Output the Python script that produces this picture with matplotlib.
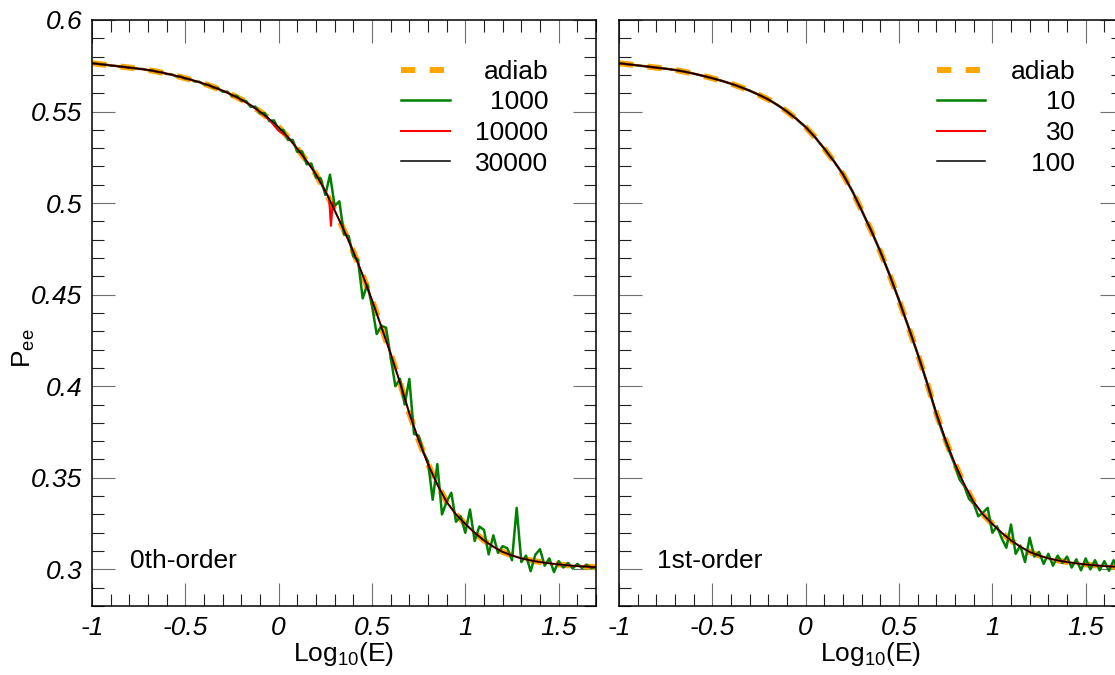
import numpy as np
import matplotlib.pyplot as plt
from matplotlib.ticker import MultipleLocator, FuncFormatter

plt.rcParams['font.family'] = ['Liberation Sans', 'DejaVu Sans']
plt.rcParams['mathtext.default'] = 'regular'

# log10(E) grids
log_e = np.round(np.arange(-1.0, 1.7001, 0.05), 3)
log_e_fine = np.round(np.arange(-1.0, 1.7001, 0.025), 3)

# adiabatic survival probability (step 0.05)
p_adiab = [
    0.5764, 0.5758, 0.5752, 0.5746, 0.5740, 0.5734, 0.5727, 0.5718, 0.5707, 0.5695,
    0.5682, 0.5668, 0.5652, 0.5634, 0.5614, 0.5591, 0.5566, 0.5535, 0.5500, 0.5460,
    0.5415, 0.5360, 0.5297, 0.5230, 0.5157, 0.5065, 0.4960, 0.4852, 0.4735, 0.4607,
    0.4470, 0.4325, 0.4177, 0.4020, 0.3852, 0.3705, 0.3575, 0.3463, 0.3368, 0.3300,
    0.3248, 0.3200, 0.3158, 0.3124, 0.3095, 0.3076, 0.3060, 0.3049, 0.3040, 0.3033,
    0.3027, 0.3022, 0.3018, 0.3015, 0.3012,
]

# 0th-order, 1000 steps (step 0.025)
p0_1000 = [
    0.5764, 0.5761, 0.5758, 0.5756, 0.5751, 0.5750, 0.5745, 0.5744,
    0.5739, 0.5738, 0.5733, 0.5732, 0.5726, 0.5725, 0.5716, 0.5715,
    0.5705, 0.5704, 0.5692, 0.5692, 0.5679, 0.5677, 0.5664, 0.5663,
    0.5648, 0.5646, 0.5630, 0.5628, 0.5608, 0.5609, 0.5585, 0.5586,
    0.5560, 0.5558, 0.5526, 0.5527, 0.5490, 0.5492, 0.5448, 0.5452,
    0.5400, 0.5399, 0.5345, 0.5345, 0.5280, 0.5283, 0.5212, 0.5216,
    0.5140, 0.5135, 0.5045, 0.5155, 0.4985, 0.5010, 0.4830, 0.4820,
    0.4710, 0.4690, 0.4480, 0.4555, 0.4440, 0.4285, 0.4330, 0.4320,
    0.4160, 0.4000, 0.4040, 0.3900, 0.4040, 0.3740, 0.3730, 0.3640,
    0.3590, 0.3380, 0.3575, 0.3300, 0.3370, 0.3418, 0.3260, 0.3290,
    0.3200, 0.3327, 0.3155, 0.3234, 0.3215, 0.3082, 0.3186, 0.3090,
    0.3127, 0.3115, 0.3050, 0.3336, 0.3040, 0.3075, 0.2990, 0.3080,
    0.3110, 0.3020, 0.3060, 0.2985, 0.3045, 0.3010, 0.3035, 0.3005,
    0.3030, 0.3008, 0.3025, 0.3006, 0.3014,
]

# 0th-order, 10000 steps
x0_10000 = [
    -1.0, -0.95, -0.9, -0.85, -0.8, -0.75, -0.7, -0.65, -0.6, -0.55,
    -0.5, -0.45, -0.4, -0.35, -0.3, -0.25, -0.2, -0.15, -0.1, -0.05,
    0.0, 0.05, 0.1, 0.15, 0.2, 0.25, 0.27, 0.28, 0.29, 0.3,
    0.35, 0.4, 0.45, 0.5, 0.55, 0.6, 0.65, 0.7, 0.75, 0.8,
    0.85, 0.9, 0.95, 1.0, 1.05, 1.1, 1.15, 1.2, 1.25, 1.3,
    1.35, 1.4, 1.45, 1.5, 1.55, 1.6, 1.65, 1.7,
]
p0_10000 = [
    0.5764, 0.5758, 0.5752, 0.5746, 0.5740, 0.5734, 0.5727, 0.5718, 0.5707, 0.5695,
    0.5682, 0.5668, 0.5652, 0.5634, 0.5614, 0.5591, 0.5564, 0.5535, 0.5498, 0.5455,
    0.5395, 0.5360, 0.5297, 0.5230, 0.5157, 0.5065, 0.5030, 0.4876, 0.5005, 0.4960,
    0.4852, 0.4735, 0.4607, 0.4470, 0.4325, 0.4177, 0.4020, 0.3852, 0.3705, 0.3575,
    0.3463, 0.3368, 0.3300, 0.3248, 0.3200, 0.3158, 0.3124, 0.3095, 0.3076, 0.3060,
    0.3049, 0.3040, 0.3033, 0.3027, 0.3022, 0.3018, 0.3015, 0.3012,
]

# 0th-order, 30000 steps: on top of the adiabatic curve
p0_30000 = list(p_adiab)

# 1st-order, 10 steps (step 0.025)
p1_10 = [
    0.5764, 0.5761, 0.5758, 0.5755, 0.5752, 0.5749, 0.5746, 0.5743,
    0.5740, 0.5737, 0.5734, 0.5731, 0.5727, 0.5723, 0.5718, 0.5713,
    0.5707, 0.5701, 0.5695, 0.5689, 0.5682, 0.5675, 0.5668, 0.5660,
    0.5652, 0.5643, 0.5634, 0.5624, 0.5614, 0.5603, 0.5591, 0.5579,
    0.5566, 0.5551, 0.5535, 0.5518, 0.5500, 0.5480, 0.5461, 0.5437,
    0.5416, 0.5387, 0.5361, 0.5328, 0.5298, 0.5263, 0.5231, 0.5194,
    0.5158, 0.5111, 0.5066, 0.5012, 0.4961, 0.4905, 0.4853, 0.4794,
    0.4736, 0.4671, 0.4608, 0.4538, 0.4471, 0.4396, 0.4326, 0.4250,
    0.4176, 0.4098, 0.4019, 0.3932, 0.3848, 0.3770, 0.3698, 0.3630,
    0.3568, 0.3490, 0.3455, 0.3385, 0.3360, 0.3290, 0.3310, 0.3336,
    0.3200, 0.3235, 0.3170, 0.3118, 0.3245, 0.3085, 0.3130, 0.3040,
    0.3173, 0.3070, 0.3095, 0.3030, 0.3085, 0.3020, 0.3075, 0.3035,
    0.3070, 0.3010, 0.3055, 0.2995, 0.3060, 0.3000, 0.3050, 0.2995,
    0.3045, 0.2992, 0.3050, 0.2995, 0.3040,
]

# 1st-order, 30 and 100 steps: on top of the adiabatic curve
p1_30 = list(p_adiab)
p1_100 = list(p_adiab)

orange = '#FFA500'
green = '#008000'
red = '#FF0000'
fs = 19

fig = plt.figure(figsize=(11.15, 6.75), dpi=100)
ax1 = fig.add_axes([92 / 1115, 1 - 606 / 675, 504 / 1115, 586 / 675])
ax2 = fig.add_axes([619 / 1115, 1 - 606 / 675, 504 / 1115, 586 / 675])

# left panel
ax1.plot(log_e, p_adiab, color=orange, lw=4.3, dashes=(2.4, 2.4), label='adiab')
ax1.plot(log_e_fine, p0_1000, color=green, lw=1.8, label='1000')
ax1.plot(x0_10000, p0_10000, color=red, lw=1.5, label='10000')
ax1.plot(log_e, p0_30000, color='black', lw=1.1, label='30000')

# right panel
ax2.plot(log_e, p_adiab, color=orange, lw=4.3, dashes=(2.4, 2.4), label='adiab')
ax2.plot(log_e_fine, p1_10, color=green, lw=1.8, label='10')
ax2.plot(log_e, p1_30, color=red, lw=1.5, label='30')
ax2.plot(log_e, p1_100, color='black', lw=1.1, label='100')

fmt = FuncFormatter(lambda v, pos: '%g' % round(v, 3))
for ax in (ax1, ax2):
    ax.set_xlim(-1, 1.7)
    ax.set_ylim(0.28, 0.6)
    ax.xaxis.set_major_locator(MultipleLocator(0.5))
    ax.xaxis.set_minor_locator(MultipleLocator(0.1))
    ax.yaxis.set_major_locator(MultipleLocator(0.05))
    ax.yaxis.set_minor_locator(MultipleLocator(0.01))
    ax.xaxis.set_major_formatter(fmt)
    ax.yaxis.set_major_formatter(fmt)
    ax.tick_params(which='both', direction='in', top=True, right=True)
    ax.tick_params(which='major', length=16.5, width=0.8, color='#707070',
                   labelsize=fs, pad=7)
    ax.tick_params(which='minor', length=8.6, width=0.8, color='#202020')
    for s in ax.spines.values():
        s.set_linewidth(1.1)
    ax.set_xlabel('Log$_{10}$(E)', fontsize=fs, labelpad=0)
    plt.setp(ax.get_xticklabels() + ax.get_yticklabels(), fontstyle='italic')

ax2.tick_params(labelleft=False)
ax1.set_ylabel('P$_{ee}$', fontsize=fs)
ax1.yaxis.set_label_coords(-0.11, 0.44)

ax1.text(0.075, 0.077, '0th-order', transform=ax1.transAxes, fontsize=fs, va='center')
ax2.text(0.075, 0.077, '1st-order', transform=ax2.transAxes, fontsize=fs, va='center')

legends = []
for ax in (ax1, ax2):
    leg = ax.legend(loc='upper right', bbox_to_anchor=(0.905, 0.932), frameon=False,
                    fontsize=fs, handlelength=1.85, handletextpad=0.95,
                    labelspacing=0.25, borderpad=0, borderaxespad=0)
    legends.append(leg)

# right-align the legend labels inside their column
fig.canvas.draw()
renderer = fig.canvas.get_renderer()
for leg in legends:
    widths = [t.get_window_extent(renderer).width for t in leg.get_texts()]
    w = max(widths)
    for t, tw in zip(leg.get_texts(), widths):
        t.set_position((w - tw, 0))

fig.savefig('out.png', dpi=100)
